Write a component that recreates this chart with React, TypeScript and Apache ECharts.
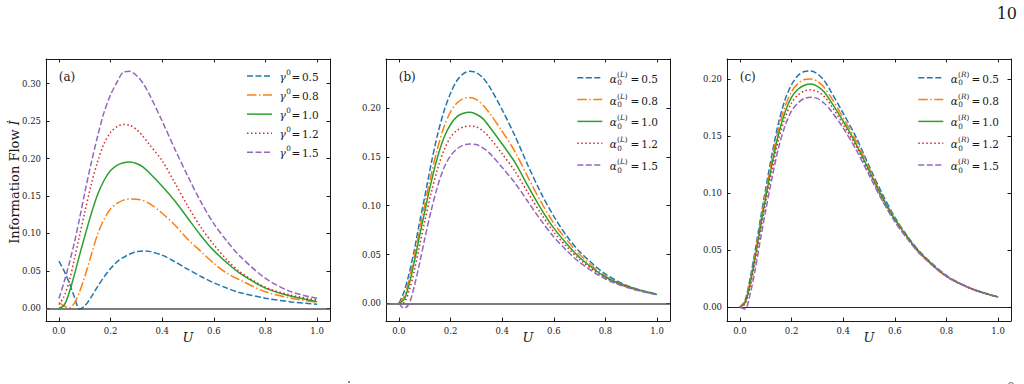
import React, { useEffect, useRef } from "react";
import * as echarts from "echarts";

// Coupling strength U sampled along the horizontal axis
const U = [0, 0.02, 0.04, 0.06, 0.08, 0.1, 0.125, 0.15, 0.175, 0.2, 0.225, 0.25, 0.275, 0.3, 0.325, 0.35, 0.4, 0.45, 0.5, 0.55, 0.6, 0.65, 0.7, 0.8, 0.9, 1.0];

const PARAM_VALUES = ["0.5", "0.8", "1.0", "1.2", "1.5"];
const X_TICKS = [0, 0.2, 0.4, 0.6, 0.8, 1.0];
const Y_TICKS_A = [0, 0.05, 0.1, 0.15, 0.2, 0.25, 0.3];
const Y_TICKS_BC = [0, 0.05, 0.1, 0.15, 0.2];

// (a) information flow for different gamma^0
const flowGamma05 = [0.063, 0.05, 0.034, 0.015, -0.001, 0.003, 0.015, 0.029, 0.042, 0.053, 0.062, 0.068, 0.0725, 0.0755, 0.0765, 0.076, 0.071, 0.062, 0.052, 0.0425, 0.034, 0.027, 0.021, 0.0135, 0.0085, 0.0054];
const flowGamma08 = [0.008, 0.003, 0.0005, 0.007, 0.022, 0.042, 0.071, 0.099, 0.119, 0.133, 0.14, 0.1445, 0.146, 0.1458, 0.144, 0.14, 0.127, 0.111, 0.092, 0.076, 0.06, 0.047, 0.038, 0.022, 0.0135, 0.008];
const flowGamma10 = [0, 0.004, 0.021, 0.045, 0.071, 0.096, 0.126, 0.152, 0.171, 0.184, 0.191, 0.1945, 0.1955, 0.1935, 0.189, 0.181, 0.163, 0.143, 0.12, 0.097, 0.077, 0.061, 0.047, 0.027, 0.016, 0.009];
const flowGamma12 = [0.005, 0.016, 0.036, 0.066, 0.097, 0.128, 0.165, 0.196, 0.22, 0.235, 0.2425, 0.2455, 0.2445, 0.239, 0.23, 0.219, 0.197, 0.167, 0.136, 0.108, 0.085, 0.065, 0.049, 0.028, 0.0175, 0.011];
const flowGamma15 = [0.013, 0.035, 0.06, 0.088, 0.12, 0.154, 0.194, 0.23, 0.262, 0.285, 0.302, 0.3155, 0.3165, 0.311, 0.301, 0.286, 0.25, 0.212, 0.176, 0.142, 0.113, 0.09, 0.07, 0.04, 0.022, 0.0135];

// (b) information flow for different alpha_0^(L)
const flowAlphaL05 = [0, 0.012, 0.031, 0.055, 0.083, 0.109, 0.143, 0.173, 0.197, 0.215, 0.228, 0.235, 0.2375, 0.236, 0.231, 0.222, 0.198, 0.171, 0.141, 0.113, 0.089, 0.069, 0.053, 0.03, 0.0165, 0.0095];
const flowAlphaL08 = [0, 0.007, 0.025, 0.049, 0.076, 0.101, 0.132, 0.159, 0.181, 0.196, 0.205, 0.2095, 0.2105, 0.2085, 0.203, 0.195, 0.176, 0.155, 0.129, 0.104, 0.082, 0.065, 0.05, 0.028, 0.0162, 0.009];
const flowAlphaL10 = [0, 0.004, 0.02, 0.043, 0.069, 0.094, 0.124, 0.15, 0.17, 0.183, 0.191, 0.1945, 0.1955, 0.1935, 0.189, 0.181, 0.163, 0.144, 0.12, 0.097, 0.077, 0.061, 0.047, 0.027, 0.016, 0.009];
const flowAlphaL12 = [0, 0.001, 0.013, 0.034, 0.059, 0.084, 0.113, 0.138, 0.157, 0.17, 0.177, 0.1805, 0.1815, 0.1805, 0.1765, 0.17, 0.153, 0.135, 0.113, 0.092, 0.073, 0.058, 0.045, 0.026, 0.0155, 0.009];
const flowAlphaL15 = [0, -0.005, 0.0, 0.018, 0.041, 0.066, 0.095, 0.12, 0.139, 0.151, 0.158, 0.162, 0.163, 0.1625, 0.159, 0.154, 0.139, 0.123, 0.104, 0.085, 0.068, 0.054, 0.042, 0.025, 0.015, 0.0088];

// (c) information flow for different alpha_0^(R)
const flowAlphaR05 = [0, 0.006, 0.026, 0.051, 0.078, 0.104, 0.135, 0.162, 0.182, 0.195, 0.203, 0.2065, 0.207, 0.2045, 0.199, 0.19, 0.17, 0.149, 0.124, 0.1, 0.079, 0.062, 0.048, 0.028, 0.016, 0.009];
const flowAlphaR08 = [0, 0.005, 0.023, 0.048, 0.075, 0.1, 0.13, 0.157, 0.176, 0.189, 0.196, 0.1995, 0.2, 0.198, 0.193, 0.185, 0.166, 0.146, 0.122, 0.098, 0.078, 0.0615, 0.0475, 0.0275, 0.016, 0.009];
const flowAlphaR10 = [0, 0.004, 0.021, 0.045, 0.071, 0.096, 0.126, 0.152, 0.171, 0.184, 0.191, 0.1945, 0.1955, 0.1935, 0.189, 0.181, 0.163, 0.143, 0.12, 0.097, 0.077, 0.061, 0.047, 0.027, 0.016, 0.009];
const flowAlphaR12 = [0, 0.003, 0.018, 0.041, 0.067, 0.092, 0.121, 0.147, 0.166, 0.179, 0.186, 0.1895, 0.1905, 0.189, 0.185, 0.178, 0.16, 0.141, 0.118, 0.095, 0.076, 0.06, 0.0465, 0.027, 0.016, 0.009];
const flowAlphaR15 = [0, -0.0015, 0.012, 0.034, 0.06, 0.085, 0.114, 0.14, 0.159, 0.172, 0.179, 0.183, 0.184, 0.183, 0.179, 0.173, 0.157, 0.138, 0.116, 0.094, 0.075, 0.0595, 0.046, 0.027, 0.0158, 0.0088];

const FONT = "'DejaVu Serif', serif";
const INK = "#1a1a1a";

const LINE_STYLES = [
  { color: "#1f77b4", dash: [6, 2.5] as number[] | null },
  { color: "#ff7f0e", dash: [9.5, 2.5, 1.5, 2.5] as number[] | null },
  { color: "#2ca02c", dash: null as number[] | null },
  { color: "#d62728", dash: [1.5, 2.5] as number[] | null },
  { color: "#9467bd", dash: [6, 2.5] as number[] | null },
];

const PANELS = [
  {
    tag: "(a)",
    grid: { left: 46, top: 59, width: 284, height: 262 },
    yMin: -0.017,
    yMax: 0.333,
    yTicks: Y_TICKS_A,
    curves: [flowGamma05, flowGamma08, flowGamma10, flowGamma12, flowGamma15],
    param: "gamma",
    zero: { color: "#505050", width: 1.6 },
  },
  {
    tag: "(b)",
    grid: { left: 386, top: 59, width: 284, height: 262 },
    yMin: -0.018,
    yMax: 0.25,
    yTicks: Y_TICKS_BC,
    curves: [flowAlphaL05, flowAlphaL08, flowAlphaL10, flowAlphaL12, flowAlphaL15],
    param: "L",
    zero: { color: "#505050", width: 1.6 },
  },
  {
    tag: "(c)",
    grid: { left: 727, top: 59, width: 284, height: 262 },
    yMin: -0.012,
    yMax: 0.2175,
    yTicks: Y_TICKS_BC,
    curves: [flowAlphaR05, flowAlphaR08, flowAlphaR10, flowAlphaR12, flowAlphaR15],
    param: "R",
    zero: { color: "#111111", width: 0.9 },
  },
];

function txt(x: number, y: number, text: string, size: number, extra: any = {}) {
  return {
    type: "text",
    x,
    y,
    silent: true,
    style: {
      text,
      fontFamily: FONT,
      fontSize: size,
      fill: INK,
      textAlign: "left",
      textVerticalAlign: "middle",
      align: "left",
      verticalAlign: "middle",
      ...extra,
    },
  };
}

function legendGraphics(p: number) {
  const panel = PANELS[p];
  const out: any[] = [];
  const isGamma = panel.param === "gamma";
  const x0 = panel.grid.left + (isGamma ? 201 : 191.3);
  const rowTop = isGamma ? 76 : 77.8;
  const rowGap = isGamma ? 19.07 : 21.8;
  PARAM_VALUES.forEach((v, k) => {
    const y = rowTop + rowGap * k;
    const st = LINE_STYLES[k];
    out.push({
      type: "line",
      silent: true,
      shape: { x1: x0, y1: y, x2: x0 + 25, y2: y },
      style: { stroke: st.color, lineWidth: 1.5, lineDash: st.dash },
    });
    const tx = x0 + 32.5;
    if (isGamma) {
      out.push(txt(tx, y + 0.5, "γ", 10.5, { fontStyle: "italic" }));
      out.push(txt(tx + 6.8, y - 4, "0", 7.3));
      out.push(txt(tx + 12, y + 0.5, "=", 10.5));
      out.push(txt(tx + 22.4, y + 0.5, v, 10.5));
    } else {
      out.push(txt(tx, y + 1, "α", 10.5, { fontStyle: "italic" }));
      out.push(
        txt(tx + 7.3, y - 3.5, "{p|(}{i|" + panel.param + "}{p|)}", 7.3, {
          rich: {
            p: { fontFamily: FONT, fontSize: 7.3, fill: INK },
            i: { fontFamily: FONT, fontSize: 7.3, fill: INK, fontStyle: "italic" },
          },
        })
      );
      out.push(txt(tx + 7.5, y + 5, "0", 7.3));
      out.push(txt(tx + 20.8, y + 1, "=", 10.5));
      out.push(txt(tx + 31.4, y + 1, v, 10.5));
    }
  });
  return out;
}

function buildOption() {
  const grid: any[] = [];
  const xAxis: any[] = [];
  const yAxis: any[] = [];
  const series: any[] = [];
  const graphic: any[] = [];

  const frameLine = { show: true, onZero: false, lineStyle: { color: INK, width: 1 } };
  const tickStyle = (vals: number[]) => ({
    show: true,
    inside: true,
    length: 3.5,
    customValues: vals,
    lineStyle: { color: INK, width: 1 },
  });

  PANELS.forEach((panel, i) => {
    grid.push({ ...panel.grid, containLabel: false });
    const xBase = {
      type: "value",
      gridIndex: i,
      min: -0.05,
      max: 1.05,
      axisLine: frameLine,
      axisTick: tickStyle(X_TICKS),
      splitLine: { show: false },
    };
    xAxis.push({
      ...xBase,
      position: "bottom",
      axisLabel: {
        show: true,
        customValues: X_TICKS,
        formatter: (v: number) => v.toFixed(1),
        fontFamily: FONT,
        fontSize: 8.5,
        color: INK,
        margin: 5,
      },
    });
    xAxis.push({ ...xBase, position: "top", axisLabel: { show: false } });

    const yBase = {
      type: "value",
      gridIndex: i,
      min: panel.yMin,
      max: panel.yMax,
      axisLine: frameLine,
      axisTick: tickStyle(panel.yTicks),
      splitLine: { show: false },
    };
    yAxis.push({
      ...yBase,
      position: "left",
      axisLabel: {
        show: true,
        customValues: panel.yTicks,
        formatter: (v: number) => v.toFixed(2),
        fontFamily: FONT,
        fontSize: 8.5,
        color: INK,
        margin: 5,
      },
    });
    yAxis.push({ ...yBase, position: "right", axisLabel: { show: false } });

    panel.curves.forEach((vals, k) => {
      const st = LINE_STYLES[k];
      const s: any = {
        type: "line",
        name: panel.tag + " " + PARAM_VALUES[k],
        xAxisIndex: 2 * i,
        yAxisIndex: 2 * i,
        data: U.map((u, j) => [u, vals[j]]),
        symbol: "none",
        smooth: 0.3,
        silent: true,
        emphasis: { disabled: true },
        z: 3 + k,
        lineStyle: { color: st.color, width: 1.5, type: st.dash ? st.dash : "solid", cap: "butt" },
      };
      if (k === 0) {
        s.markLine = {
          silent: true,
          symbol: ["none", "none"],
          label: { show: false },
          emphasis: { disabled: true },
          lineStyle: { color: panel.zero.color, width: panel.zero.width, type: "solid" },
          data: [{ yAxis: 0 }],
        };
      }
      series.push(s);
    });

    const g = panel.grid;
    graphic.push(txt(g.left + 12.7, 77, panel.tag, 12));
    graphic.push(
      txt(g.left + g.width / 2, 337, "U", 13, {
        fontStyle: "italic",
        textAlign: "center",
        align: "center",
      })
    );
    graphic.push(...legendGraphics(i));
  });

  // vertical axis title of the first panel
  graphic.push({
    type: "text",
    x: 14.5,
    y: 182,
    rotation: Math.PI / 2,
    silent: true,
    style: {
      text: "{n|Information Flow }{i|İ}",
      rich: {
        n: { fontFamily: FONT, fontSize: 13, fill: INK },
        i: { fontFamily: FONT, fontSize: 13, fill: INK, fontStyle: "italic" },
      },
      textAlign: "center",
      textVerticalAlign: "middle",
      align: "center",
      verticalAlign: "middle",
    },
  });

  // page number
  graphic.push(txt(1017, 13.5, "10", 16, { textAlign: "right", align: "right" }));
  // tops of glyphs from the next line of the page, cut by the lower edge
  graphic.push({ type: "circle", silent: true, shape: { cx: 349, cy: 382, r: 0.8 }, style: { fill: "#444" } });
  graphic.push({ type: "arc", silent: true, shape: { cx: 1011, cy: 385, r: 2.5, startAngle: Math.PI, endAngle: 2 * Math.PI }, style: { stroke: "#444", lineWidth: 0.8, fill: "none" } });

  return {
    animation: false,
    backgroundColor: "#ffffff",
    grid,
    xAxis,
    yAxis,
    series,
    graphic,
  };
}

export default function App() {
  const ref = useRef<HTMLDivElement>(null);
  useEffect(() => {
    if (!ref.current) return;
    const chart = echarts.init(ref.current, null, { renderer: "svg" });
    chart.setOption(buildOption() as any);
    return () => chart.dispose();
  }, []);
  return (
    <div
      ref={ref}
      style={{ position: "absolute", left: 0, top: 0, width: 1024, height: 384, background: "#fff" }}
    />
  );
}
